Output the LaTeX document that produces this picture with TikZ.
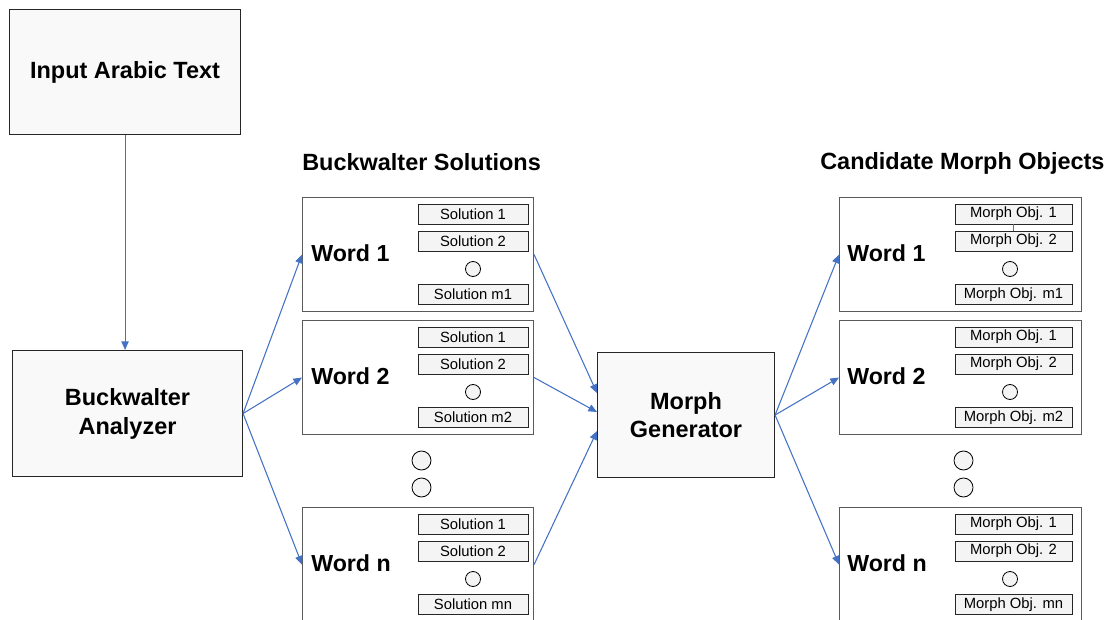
\documentclass[tikz,border=0pt]{standalone}
\usepackage{fontspec}
\setmainfont{Liberation Sans}
\usetikzlibrary{arrows.meta,calc}

\definecolor{flowblue}{HTML}{4472C4}
\definecolor{boxfill}{HTML}{F9F9F9}
\definecolor{itemfill}{HTML}{F4F4F4}
\definecolor{edgegray}{HTML}{5A5A5A}

\newcommand{\ux}{0.75pt}

\tikzset{
  bigbox/.style={draw=black!85, fill=boxfill, line width=0.8pt, inner sep=0pt,
    anchor=north west, align=center,
    font=\fontsize{17.6}{21.6}\selectfont\bfseries},
  wordbox/.style={draw=edgegray, fill=white, line width=0.8pt, inner sep=0pt,
    anchor=north west, minimum height=114*\ux},
  itembox/.style={draw=black!85, fill=itemfill, line width=0.6pt, inner sep=0pt,
    minimum height=20*\ux, font=\fontsize{11.1}{12}\selectfont},
  wordlabel/.style={anchor=west, inner sep=0pt, font=\fontsize{17.4}{20}\selectfont\bfseries},
  heading/.style={anchor=west, inner sep=0pt, font=\fontsize{17.6}{20}\selectfont\bfseries},
  smalldot/.style={circle, draw=black, fill=itemfill, line width=0.6pt, inner sep=0pt,
    minimum size=15*\ux},
  bigdot/.style={circle, draw=black, fill=itemfill, line width=0.6pt, inner sep=0pt,
    minimum size=19*\ux},
  flow/.style={draw=flowblue, line width=0.8pt, -{Triangle[length=6.5pt,width=5.5pt]}},
  thinlink/.style={draw=flowblue, line width=0.8pt}
}

\begin{document}
\begin{tikzpicture}[x=\ux, y=-\ux]
\path[use as bounding box] (0,0) rectangle (1110,620);
\clip (0,0) rectangle (1110,620);

% main processing blocks
\node[bigbox, minimum width=231*\ux, minimum height=125*\ux] (input) at (9,9) {Input Arabic Text};
\node[bigbox, minimum width=230*\ux, minimum height=126*\ux] (analyzer) at (12,350) {Buckwalter\\Analyzer};
\node[bigbox, minimum width=177*\ux, minimum height=125*\ux] (gen) at (597,352) {Morph\\Generator};

% column headings
\node[heading] (solhead) at (302,162) {Buckwalter Solutions};
\node[heading] (candhead) at (820,163) {Candidate Morph Objects};

% per-word boxes: solutions (left) and morph objects (right)
\foreach \r/\top/\m in {1/197/m1, 2/320/m2, n/507/mn}{
  \node[wordbox, minimum width=231*\ux] (ws\r) at (302,\top) {};
  \node[wordlabel] (ws\r lbl) at (311,\top+56) {Word \r};
  \node[itembox, minimum width=110*\ux] (ws\r a) at (473,\top+17) {Solution 1};
  \node[itembox, minimum width=110*\ux] (ws\r b) at (473,\top+44) {Solution 2};
  \node[smalldot] (ws\r dot) at (473,\top+72) {};
  \node[itembox, minimum width=110*\ux] (ws\r c) at (473,\top+97.5) {Solution \m};

  \node[wordbox, minimum width=242*\ux] (wm\r) at (839,\top) {};
  \node[wordlabel] (wm\r lbl) at (847,\top+56) {Word \r};
  \node[itembox, minimum width=117*\ux] (wm\r a) at (1013.5,\top+17) {Morph Obj. 1};
  \node[itembox, minimum width=117*\ux] (wm\r b) at (1013.5,\top+44) {Morph Obj. 2};
  \node[smalldot] (wm\r dot) at (1010,\top+72) {};
  \node[itembox, minimum width=117*\ux] (wm\r c) at (1013.5,\top+97.5) {Morph Obj. \m};
}

% ellipsis dots between word 2 and word n
\node[bigdot] (sdotA) at (421.5,460.5) {};
\node[bigdot] (sdotB) at (421.5,487.5) {};
\node[bigdot] (mdotA) at (963.5,460.5) {};
\node[bigdot] (mdotB) at (963.5,487.5) {};

% connectors
\draw[flow] (input.south) -- (input.south |- analyzer.north);
\draw[flow] (analyzer.east) -- (ws1.west);
\draw[flow] (analyzer.east) -- (ws2.west);
\draw[flow] (analyzer.east) -- (wsn.west);

\draw[flow] (ws1.east) -- ($(gen.west)+(0,-22)$);
\draw[flow] (ws2.east) -- ($(gen.west)+(0,-3)$);
\draw[flow] (wsn.east) -- ($(gen.west)+(0,16)$);

\draw[flow] (gen.east) -- (wm1.west);
\draw[flow] (gen.east) -- (wm2.west);
\draw[flow] (gen.east) -- (wmn.west);

\draw[thinlink] (wm1a.south) -- (wm1b.north);
\end{tikzpicture}
\end{document}
